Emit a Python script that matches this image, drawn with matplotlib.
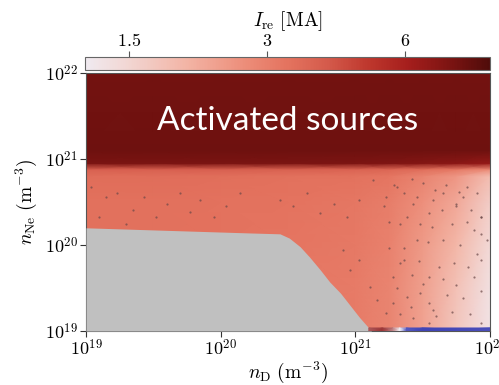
import numpy as np
import matplotlib
matplotlib.use("Agg")
import matplotlib.pyplot as plt
from matplotlib.colors import LinearSegmentedColormap, LogNorm, Normalize

plt.rcParams['mathtext.fontset'] = 'cm'

# --- data (log10 of densities, I_re in MA) ---
log_nD = [19.0, 19.5, 20.0, 20.5, 21.0, 21.25, 21.5, 21.75, 22.0]
log_nNe = [19.0, 19.5, 20.0, 20.5, 20.8, 20.88, 20.95, 21.1, 22.0]
I_re = [
    [3.3, 3.3, 3.3, 3.2, 3.1, 2.9, 2.3, 1.7, 1.3],
    [3.3, 3.3, 3.3, 3.2, 3.1, 2.9, 2.35, 1.8, 1.35],
    [3.4, 3.4, 3.35, 3.25, 3.15, 2.95, 2.45, 1.95, 1.45],
    [3.4, 3.4, 3.35, 3.3, 3.2, 3.05, 2.65, 2.2, 1.6],
    [3.5, 3.5, 3.45, 3.4, 3.35, 3.25, 2.9, 2.5, 1.85],
    [3.9, 3.9, 3.9, 3.85, 3.8, 3.7, 3.5, 3.2, 2.8],
    [7.6, 7.6, 7.6, 7.6, 7.5, 7.4, 7.2, 7.0, 6.6],
    [8.0, 8.0, 8.0, 8.0, 8.0, 8.0, 8.0, 8.0, 8.0],
    [7.8, 7.8, 7.8, 7.8, 7.8, 7.8, 7.8, 7.8, 7.8],
]

# region without runaway current (grey)
grey_log_nD = [19.0, 20.22, 20.44, 20.51, 20.59, 20.66, 20.74, 20.81, 20.89, 20.96, 21.03, 21.12]
grey_log_top = [20.20, 20.14, 20.13, 20.08, 19.98, 19.86, 19.71, 19.57, 19.44, 19.30, 19.16, 19.0]

# thin strip along the bottom edge
strip_log_nD = [21.10, 21.20, 21.28, 21.33, 21.38, 21.5, 22.0]
strip_val = [0.7, 0.85, 0.5, 0.0, -0.8, -0.9, -0.85]

# scattered simulation markers
dot_log_nD = [21.29, 21.42, 21.50, 21.59, 21.67, 21.77, 21.80, 21.90, 21.23, 21.36, 21.43, 21.58,
              21.64, 21.75, 21.86, 21.93, 21.25, 21.33, 21.48, 21.57, 21.72, 21.83, 21.88, 21.93,
              21.98, 21.25, 21.36, 21.54, 21.65, 21.78, 21.90, 21.33, 21.47, 21.62, 21.73, 21.84,
              21.93, 21.42, 21.55, 21.65, 21.75, 21.88, 21.31, 21.48, 21.68, 21.80, 21.93, 21.28,
              21.41, 21.58, 21.72, 21.85, 21.93, 21.43, 21.55, 21.33,
              19.04, 19.15, 19.23, 19.35, 19.43, 19.52, 19.60, 19.70, 19.77, 19.85, 19.95, 20.04,
              20.14, 19.10, 19.30,
              20.44, 20.54, 20.64, 20.74, 20.84, 20.94, 21.03, 21.13, 21.21, 21.31, 21.38, 21.46,
              21.55, 21.65, 21.75, 21.83, 21.93,
              20.91, 20.96, 21.03, 21.11, 21.16, 21.23, 21.28, 21.36, 21.38, 21.46, 21.50, 21.55, 21.60]
dot_log_nNe = [20.70, 20.77, 20.72, 20.64, 20.70, 20.62, 20.56, 20.60, 20.56, 20.60, 20.48, 20.52,
               20.41, 20.48, 20.41, 20.33, 20.27, 20.25, 20.25, 20.21, 20.25, 20.27, 20.17, 20.13,
               20.06, 19.96, 19.96, 20.04, 20.06, 20.00, 19.90, 19.79, 19.81, 19.75, 19.79, 19.75,
               19.83, 19.65, 19.63, 19.61, 19.53, 19.63, 19.50, 19.44, 19.42, 19.38, 19.46, 19.32,
               19.28, 19.24, 19.22, 19.20, 19.09, 19.15, 19.09, 19.20,
               20.68, 20.56, 20.60, 20.41, 20.56, 20.33, 20.48, 20.60, 20.38, 20.52, 20.33, 20.45,
               20.60, 20.33, 20.25,
               20.52, 20.45, 20.60, 20.37, 20.48, 20.33, 20.52, 20.76, 20.45, 20.68, 20.33, 20.56,
               20.37, 20.60, 20.45, 20.68, 20.33,
               19.94, 19.71, 19.83, 19.51, 19.36, 19.21, 19.63, 19.83, 19.40, 20.06, 19.55, 19.32, 19.17]

x_ticks = [1e19, 1e20, 1e21, 1e22]
x_ticklabels = ["$10^{19}$", "$10^{20}$", "$10^{21}$", "$10^{22}$"]
y_ticks = [1e19, 1e20, 1e21, 1e22]
y_ticklabels = ["$10^{19}$", "$10^{20}$", "$10^{21}$", "$10^{22}$"]
cb_ticks = [1.5, 3, 6]
cb_ticklabels = ["$1.5$", "$3$", "$6$"]

# --- colormaps ---
cmap = LinearSegmentedColormap.from_list("ire", [
    (0.00, (240/255, 234/255, 240/255)),
    (0.10, (242/255, 215/255, 212/255)),
    (0.25, (243/255, 180/255, 165/255)),
    (0.40, (236/255, 140/255, 120/255)),
    (0.50, (228/255, 115/255, 95/255)),
    (0.60, (212/255, 90/255, 75/255)),
    (0.70, (190/255, 55/255, 45/255)),
    (0.80, (165/255, 30/255, 28/255)),
    (0.90, (125/255, 20/255, 18/255)),
    (1.00, (80/255, 12/255, 10/255)),
])
norm = LogNorm(vmin=1.2, vmax=9.2)
strip_cmap = LinearSegmentedColormap.from_list("strip", [
    (0.0, (45/255, 50/255, 175/255)),
    (0.5, (245/255, 245/255, 250/255)),
    (1.0, (140/255, 20/255, 20/255)),
])

fig = plt.figure(figsize=(4.99, 3.85), dpi=100)
ax = fig.add_axes([86/499, 54/385, 404/499, 258/385])
cax = fig.add_axes([85/499, 315/385, 405/499, 13/385])

X, Y = np.meshgrid(10.0**np.array(log_nD), 10.0**np.array(log_nNe))
mesh = ax.pcolormesh(X, Y, np.array(I_re), cmap=cmap, norm=norm, shading='gouraud')

gx = 10.0**np.array(grey_log_nD)
ax.fill_between(gx, 1e19, 10.0**np.array(grey_log_top), color='#c0c0c0', lw=0, zorder=3)

sx = 10.0**np.array(strip_log_nD)
SX, SY = np.meshgrid(sx, [1e19, 10**19.035])
ax.pcolormesh(SX, SY, np.vstack([strip_val, strip_val]), cmap=strip_cmap,
              norm=Normalize(-1, 1), shading='gouraud', zorder=4)

ax.scatter(10.0**np.array(dot_log_nD), 10.0**np.array(dot_log_nNe), s=2.5, c='#6a4848',
           lw=0, alpha=0.7, zorder=2)

ax.set_xscale('log')
ax.set_yscale('log')
ax.set_xlim(1e19, 1e22)
ax.set_ylim(1e19, 1e22)
ax.set_xticks(x_ticks)
ax.set_xticklabels(x_ticklabels)
ax.set_yticks(y_ticks)
ax.set_yticklabels(y_ticklabels)
ax.minorticks_off()
ax.tick_params(labelsize=13, length=4, width=0.8, color='#333333', pad=2)
for sp in ax.spines.values():
    sp.set_color('#555555')
    sp.set_linewidth(0.8)
ax.set_xlabel(r"$n_{\rm D}\ (\mathrm{m}^{-3})$", fontsize=14, labelpad=0)
ax.set_ylabel(r"$n_{\rm Ne}\ (\mathrm{m}^{-3})$", fontsize=14, labelpad=4)

ax.text(0.5, 0.78, "Activated sources", transform=ax.transAxes, color='white',
        fontsize=24, family='Lato', ha='center', va='baseline', zorder=5)

cb = fig.colorbar(mesh, cax=cax, orientation='horizontal')
cax.xaxis.set_ticks_position('top')
cax.xaxis.set_label_position('top')
cb.set_ticks(cb_ticks)
cb.set_ticklabels(cb_ticklabels)
cax.minorticks_off()
cax.tick_params(labelsize=13, length=4, width=0.8, color='#555555', pad=1)
cb.outline.set_edgecolor('#666666')
cb.outline.set_linewidth(0.8)
cb.set_label(r"$I_{\rm re}\ [\mathrm{MA}]$", fontsize=14, labelpad=4)

fig.savefig("out.png", dpi=100)
